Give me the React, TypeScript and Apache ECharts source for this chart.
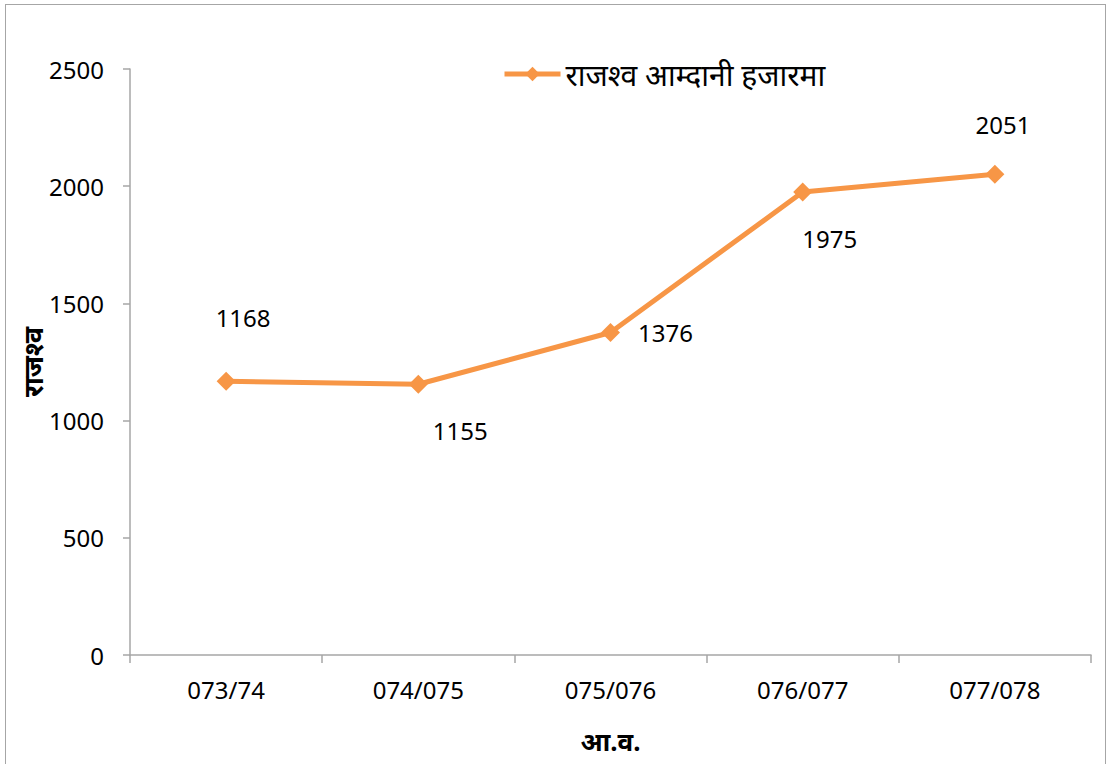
import React, { useEffect, useRef } from "react";
import * as echarts from "echarts";

const categories = ["073/74", "074/075", "075/076", "076/077", "077/078"];
const revenue = [1168, 1155, 1376, 1975, 2051];
const labelOffsets: [number, number][] = [
  [17, -64],
  [42, 46],
  [55, 0],
  [27, 46],
  [8, -50],
];
const seriesName = "राजश्व आम्दानी हजारमा";
const yName = "राजश्व";
const xName = "आ.व.";

const FONT = "'Noto Sans', 'Open Sans', sans-serif";

export default function App() {
  const ref = useRef<HTMLDivElement>(null);
  useEffect(() => {
    document.body.style.margin = "0";
    const chart = echarts.init(ref.current!, undefined, { renderer: "svg" });
    chart.setOption({
      animation: false,
      backgroundColor: "#ffffff",
      grid: { left: 130, right: 20, top: 69, bottom: 109 },
      legend: {
        data: [seriesName],
        left: 497,
        top: 54,
        itemWidth: 56,
        itemHeight: 18,
        itemGap: 4,
        lineStyle: { width: 5 },
        textStyle: { fontFamily: FONT, fontSize: 30, color: "#000" },
      },
      xAxis: {
        type: "category",
        data: categories,
        boundaryGap: true,
        name: xName,
        nameLocation: "middle",
        nameGap: 73,
        nameTextStyle: { fontFamily: FONT, fontSize: 26, fontWeight: "bold", color: "#000" },
        axisLine: { lineStyle: { color: "#a6a6a6", width: 1.5 } },
        axisTick: { show: true, length: 8, lineStyle: { color: "#a6a6a6", width: 1.5 } },
        axisLabel: { margin: 22, fontFamily: FONT, fontSize: 24, color: "#000" },
      },
      yAxis: {
        type: "value",
        min: 0,
        max: 2500,
        interval: 500,
        name: yName,
        nameLocation: "middle",
        nameRotate: 90,
        nameGap: 84,
        nameMoveOverlap: false,
        nameTextStyle: { fontFamily: FONT, fontSize: 27, fontWeight: "bold", color: "#000" },
        axisLine: { show: true, lineStyle: { color: "#a6a6a6", width: 1.5 } },
        axisTick: { show: true, length: 7, lineStyle: { color: "#a6a6a6", width: 1.5 } },
        axisLabel: {
          margin: 26,
          fontFamily: FONT,
          fontSize: 24,
          color: "#000",
          formatter: (v: number) => String(v),
        },
        splitLine: { show: false },
      },
      series: [
        {
          name: seriesName,
          type: "line",
          data: revenue.map((v, i) => ({
            value: v,
            label: { offset: labelOffsets[i] },
          })),
          symbol: "diamond",
          symbolSize: 19,
          lineStyle: { color: "#F79646", width: 5 },
          itemStyle: { color: "#F79646" },
          label: {
            show: true,
            position: "inside",
            fontFamily: FONT,
            fontSize: 24,
            color: "#000",
          },
        },
      ],
    });
    return () => chart.dispose();
  }, []);
  return (
    <div style={{ position: "relative", width: 1111, height: 764, overflow: "hidden" }}>
      <div ref={ref} style={{ width: 1111, height: 764 }} />
      <div
        style={{
          position: "absolute",
          left: 5,
          top: 4,
          width: 1099,
          height: 800,
          border: "1.5px solid #a6a6a6",
          pointerEvents: "none",
        }}
      />
    </div>
  );
}
